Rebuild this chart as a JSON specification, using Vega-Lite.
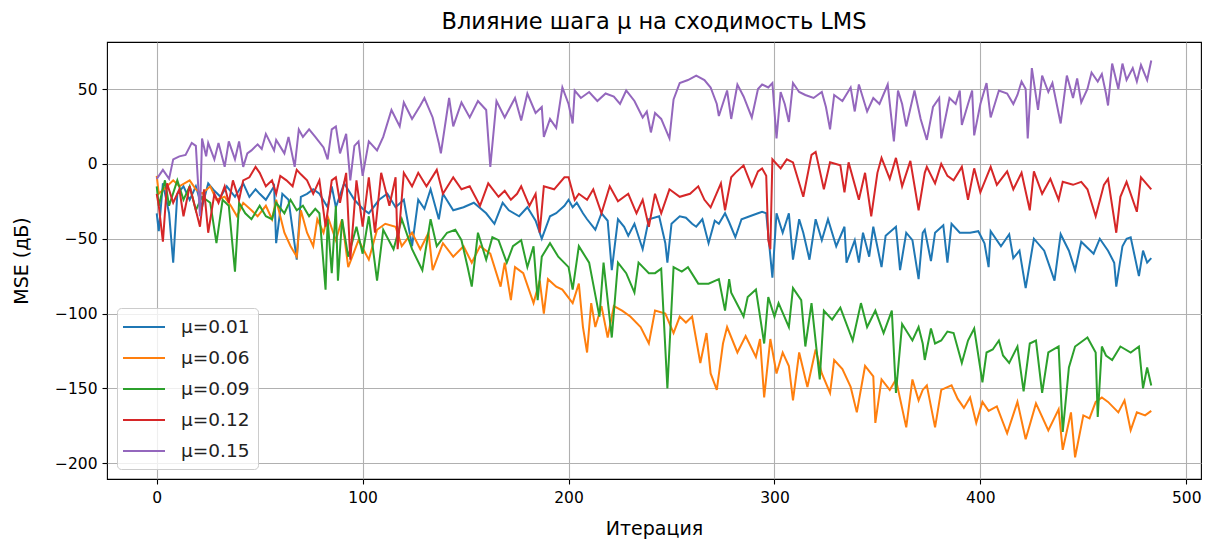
{
"$schema": "https://vega.github.io/schema/vega-lite/v6.json",
"width": 1094, "height": 437,
"autosize": {"type": "none"},
"padding": {"left": 107, "top": 42, "right": 16, "bottom": 62},
"background": "white",
"title": {"text": "Влияние шага μ на сходимость LMS", "fontSize": 22.5, "font": "DejaVu Sans", "fontWeight": "normal", "color": "black", "anchor": "middle", "offset": 9},
"config": {
  "font": "DejaVu Sans",
  "view": {"stroke": "black", "strokeWidth": 1.1},
  "axis": {"labelFont": "DejaVu Sans", "labelFontSize": 15.5, "labelColor": "black", "tickColor": "black", "tickSize": 5, "tickWidth": 1.1, "gridColor": "#b0b0b0", "gridWidth": 1.1, "gridOpacity": 1, "domain": false, "titleFont": "DejaVu Sans", "titleFontSize": 19, "titleFontWeight": "normal", "titleColor": "black", "labelPadding": 5}
},
"data": {"values": [
{"s": "μ=0.01",
"x": [0,1,3,6,8,10,13,16,19,22,25,28,31,34,38,42,45,48,50,53,57,58,61,64,68,70,73,76,79,83,85,87,91,96,100,103,108,112,116,120,124,127,130,133,137,139,144,149,154,160,164,168,171,176,180,184,187,191,194,198,200,202,204,207,209,213,216,219,221,224,227,229,232,236,239,244,247,248,250,254,257,260,262,265,268,271,273,276,278,281,284,288,292,294,296,299,301,304,307,309,312,314,317,320,323,326,330,334,335,339,341,343,346,348,352,354,359,361,364,367,370,372,373,376,378,382,384,386,390,395,399,402,404,405,410,414,416,419,422,426,431,436,439,443,446,449,455,458,462,465,466,469,471,473,477,479,481,483],
"y": [-33,-45,-13,-33,-66,-20,-15,-24,-15,-29,-13,-18,-22,-15,-22,-13,-22,-17,-20,-24,-15,-53,-20,-24,-64,-22,-20,-17,-20,-29,-15,-29,-13,-24,-30,-33,-24,-20,-29,-24,-55,-24,-30,-17,-37,-20,-31,-29,-26,-33,-40,-26,-31,-35,-29,-38,-50,-35,-33,-28,-24,-29,-26,-33,-37,-44,-33,-38,-71,-37,-42,-48,-40,-57,-37,-35,-53,-66,-40,-35,-36,-40,-42,-37,-53,-38,-40,-33,-39,-49,-37,-35,-33,-32,-33,-76,-33,-46,-33,-64,-37,-46,-64,-37,-51,-37,-55,-42,-66,-51,-66,-46,-62,-42,-69,-48,-42,-71,-46,-51,-77,-46,-44,-65,-46,-41,-66,-40,-46,-46,-45,-53,-69,-45,-55,-47,-63,-58,-83,-50,-58,-78,-47,-58,-71,-52,-60,-50,-58,-66,-82,-55,-50,-49,-75,-58,-66,-63]},
{"s": "μ=0.06",
"x": [0,1,5,8,11,16,19,22,26,29,33,36,39,42,46,49,53,56,58,62,65,68,70,73,76,78,81,83,87,90,93,98,103,107,111,116,119,124,128,132,134,139,144,149,153,157,162,167,169,172,174,178,183,186,188,190,194,197,202,205,207,209,211,213,216,219,222,226,230,235,239,242,247,251,254,257,260,264,267,269,272,275,277,282,286,291,293,295,298,301,304,307,309,312,316,320,323,327,329,333,337,340,344,348,349,352,356,359,364,367,370,372,374,378,381,386,389,392,395,398,401,404,408,413,418,422,427,433,438,440,444,446,450,453,456,459,462,467,470,473,476,480,483],
"y": [-8,-20,-15,-11,-15,-11,-17,-20,-15,-24,-22,-28,-35,-26,-31,-35,-28,-37,-24,-46,-55,-62,-31,-46,-55,-37,-46,-35,-51,-37,-69,-51,-64,-44,-40,-42,-55,-46,-57,-46,-71,-53,-62,-55,-66,-55,-60,-82,-66,-91,-69,-73,-93,-78,-100,-77,-82,-84,-93,-80,-109,-126,-93,-109,-95,-116,-95,-98,-102,-109,-120,-98,-100,-113,-102,-106,-102,-133,-113,-140,-151,-120,-109,-126,-115,-129,-117,-156,-117,-140,-126,-135,-158,-126,-149,-124,-140,-153,-131,-137,-149,-166,-135,-142,-173,-144,-151,-144,-176,-144,-158,-151,-148,-176,-151,-148,-157,-163,-156,-173,-159,-165,-162,-180,-159,-184,-160,-178,-164,-191,-166,-196,-168,-170,-159,-156,-159,-166,-158,-178,-166,-168,-165]},
{"s": "μ=0.09",
"x": [0,1,4,6,10,13,16,19,22,26,29,32,35,38,40,43,46,50,53,56,58,62,65,68,71,74,77,79,82,83,85,87,88,90,93,97,100,103,107,110,115,119,124,129,133,136,141,145,148,151,153,156,160,163,166,170,173,177,180,183,185,187,191,195,200,202,205,210,215,217,221,224,228,232,234,239,242,245,248,251,255,258,263,268,273,276,278,279,285,287,291,295,297,300,302,307,309,313,315,318,322,324,328,332,338,342,345,349,353,357,359,362,367,370,372,373,376,378,381,384,387,391,394,397,401,403,406,409,411,414,418,421,424,427,430,433,438,440,443,446,449,452,456,457,459,461,464,468,473,477,479,481,483],
"y": [-15,-28,-11,-28,-11,-24,-15,-31,-22,-26,-53,-24,-28,-72,-26,-33,-37,-28,-35,-37,-26,-33,-24,-31,-28,-35,-30,-33,-84,-37,-73,-28,-78,-37,-62,-42,-60,-35,-78,-44,-57,-37,-57,-71,-37,-55,-46,-44,-51,-69,-82,-46,-64,-49,-51,-66,-55,-51,-69,-55,-91,-62,-53,-62,-69,-84,-55,-66,-102,-66,-116,-66,-73,-86,-66,-73,-73,-70,-150,-69,-72,-69,-80,-80,-77,-98,-77,-86,-102,-89,-84,-120,-89,-102,-93,-109,-83,-91,-122,-93,-144,-98,-104,-96,-118,-93,-109,-98,-113,-98,-153,-107,-118,-109,-120,-131,-110,-120,-118,-112,-113,-133,-118,-110,-146,-126,-124,-118,-128,-133,-122,-152,-120,-118,-153,-126,-122,-179,-136,-122,-119,-116,-126,-169,-122,-128,-131,-122,-126,-122,-150,-136,-148]},
{"s": "μ=0.12",
"x": [0,1,3,5,8,11,13,16,19,21,23,25,28,30,33,35,37,40,42,45,48,50,53,56,58,60,63,66,68,70,73,76,79,82,85,87,89,92,94,97,100,103,106,109,113,116,117,120,124,127,131,136,139,144,148,152,157,161,166,169,172,175,177,181,184,186,188,193,198,200,203,205,209,212,216,220,224,229,233,236,239,242,245,249,254,259,263,266,269,274,276,279,281,285,289,292,294,296,297,298,299,303,306,309,314,318,320,324,327,332,334,336,341,344,347,350,352,356,359,362,366,370,373,374,378,381,384,387,391,394,397,400,405,408,413,416,420,424,426,430,434,438,440,445,449,452,456,460,462,466,468,471,476,478,483],
"y": [-20,-28,-52,-13,-26,-17,-35,-15,-31,-42,-17,-46,-20,-26,-15,-26,-11,-24,-11,-9,-2,-6,-15,-11,-20,-8,-11,-15,-4,-7,-11,-20,-11,-42,-11,-9,-26,-6,-64,-11,-42,-9,-46,-6,-28,-9,-57,-6,-15,-6,-15,-4,-20,-9,-17,-15,-28,-13,-22,-18,-24,-20,-15,-28,-20,-46,-15,-17,-9,-9,-24,-20,-24,-17,-33,-15,-25,-20,-33,-24,-42,-20,-33,-17,-22,-20,-15,-24,-29,-13,-31,-9,-6,-1,-15,-5,-3,-8,-51,-57,3,-3,3,1,-22,6,8,-17,1,-1,-19,1,-24,-6,-35,-6,4,-10,4,-15,2,-31,-6,-2,-13,0,-8,-11,-2,-24,-3,-19,-2,-14,-5,-17,-6,-31,-5,-20,-10,-24,-12,-14,-12,-17,-35,-14,-10,-46,-22,-12,-32,-9,-17]},
{"s": "μ=0.15",
"x": [0,3,6,8,11,14,17,19,21,22,24,25,28,30,33,35,38,40,42,44,46,49,51,53,57,58,62,64,67,69,71,74,77,81,83,85,87,89,92,94,96,98,100,103,107,110,114,118,120,124,128,130,134,137,138,142,144,148,152,156,160,162,165,169,174,177,180,184,187,188,191,194,197,200,202,203,206,210,214,218,222,225,228,232,236,238,240,242,245,249,251,254,258,262,266,269,272,273,277,279,282,285,289,292,294,297,299,301,303,305,307,309,312,315,319,323,325,327,329,333,337,339,341,345,348,351,355,358,360,362,364,368,371,374,377,380,381,385,388,390,391,394,396,397,400,403,405,409,413,416,418,420,422,423,425,428,430,433,435,439,442,445,447,449,452,454,457,459,461,462,464,467,469,471,474,476,478,481,483],
"y": [-10,-4,-10,3,5,6,14,12,-35,17,5,14,3,14,-2,15,3,15,-2,7,9,13,10,20,9,16,7,18,-2,23,18,23,18,11,3,23,25,7,20,-11,12,15,-8,15,9,18,36,25,41,30,39,44,31,14,7,44,25,41,31,42,36,-2,42,31,44,29,47,34,38,18,30,24,51,40,27,49,44,48,42,47,45,40,49,42,31,35,21,34,30,17,43,54,56,59,56,51,40,32,49,30,53,45,31,50,53,51,54,17,48,40,28,54,48,46,44,48,38,23,46,42,51,35,53,35,44,40,53,15,49,40,25,49,30,16,38,44,17,44,40,49,26,40,49,19,40,54,31,49,47,40,46,55,50,17,64,36,59,48,54,27,59,44,57,41,50,61,55,60,47,39,67,50,67,56,64,55,66,56,69]}
]},
"transform": [{"flatten": ["x", "y"]}],
"mark": {"type": "line", "strokeWidth": 2, "interpolate": "linear"},
"encoding": {
  "x": {"field": "x", "type": "quantitative",
        "scale": {"domain": [-24.15, 507.15], "nice": false, "zero": false},
        "axis": {"values": [0, 100, 200, 300, 400, 500], "title": "Итерация", "titleX": 547, "titleY": 55, "titleAlign": "center", "titleBaseline": "alphabetic", "labelPadding": 6}},
  "y": {"field": "y", "type": "quantitative",
        "scale": {"domain": [-210.5, 81.4], "nice": false, "zero": false},
        "axis": {"values": [-200, -150, -100, -50, 0, 50], "title": "MSE (дБ)", "labelExpr": "replace(datum.label, '-', '−')", "titleX": -80, "titleY": 218.5, "titleAngle": -90, "titleAlign": "center", "titleBaseline": "alphabetic"}},
  "color": {"field": "s", "type": "nominal",
        "scale": {"domain": ["μ=0.01", "μ=0.06", "μ=0.09", "μ=0.12", "μ=0.15"], "range": ["#1f77b4", "#ff7f0e", "#2ca02c", "#d62728", "#9467bd"]},
        "legend": {"title": null, "orient": "bottom-left", "offset": 10, "fillColor": "rgba(255,255,255,0.8)", "strokeColor": "#cccccc", "cornerRadius": 4, "padding": 8, "symbolType": "M-2.1,0H2.1", "symbolSize": 400, "symbolStrokeWidth": 2, "symbolFillColor": "transparent", "symbolOffset": 8, "labelFontSize": 18.5, "labelFont": "DejaVu Sans", "labelColor": "#222222", "labelOffset": 26, "rowPadding": 10}}
}
}
